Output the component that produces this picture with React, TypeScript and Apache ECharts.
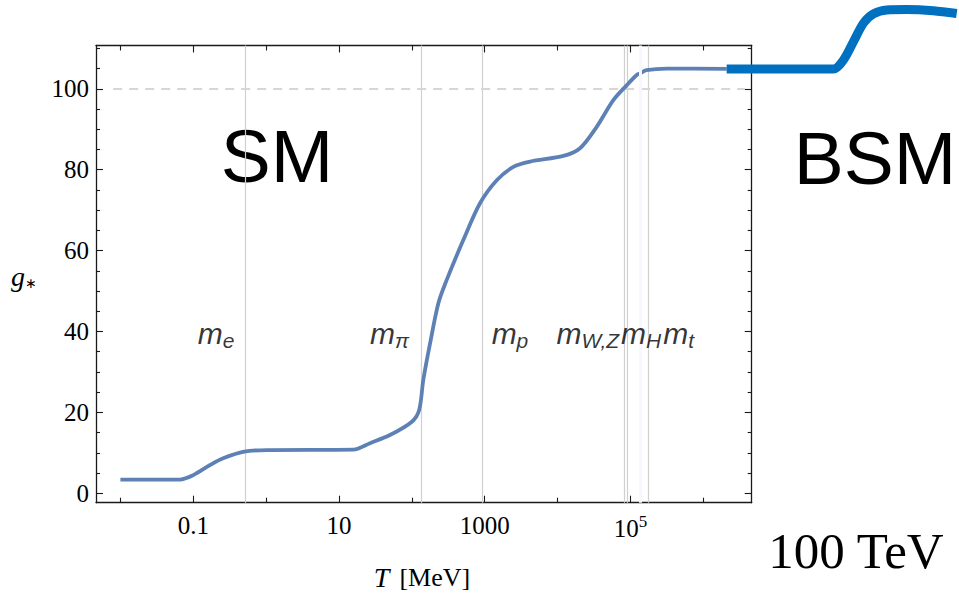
import React, { useEffect, useRef } from 'react';
import * as echarts from 'echarts';

// Standard Model g* curve (T in MeV)
const T_SM = [0.01, 0.066, 0.1, 0.17, 0.257, 0.5, 1.02, 15.7, 26.7, 50, 100, 126, 143.5, 178, 231, 300, 508, 861, 1462, 2472, 4188, 12020, 20320, 34430, 58210, 89125, 121900, 134900, 166000, 316000, 2090000];
const G_SM = [3.4, 3.4, 4.5, 7.0, 8.65, 10.3, 10.7, 10.8, 12.4, 14.4, 17.7, 20.6, 28.0, 37.1, 47.0, 52.7, 62.6, 71.7, 77.4, 80.7, 82.0, 83.4, 85.3, 90.6, 97.2, 100.9, 103.4, 103.8, 104.6, 105.0, 104.9];

// BSM continuation (T in MeV)
const T_BSM = [2090000, 6.1e7, 8.36e7, 1.146e8, 1.574e8, 2.158e8, 3.289e8, 6.19e8, 1.435e9, 3.006e9];
const G_BSM = [104.9, 104.9, 107.1, 111.6, 116.2, 118.5, 119.5, 119.6, 119.3, 118.6];

// Particle mass lines (MeV)
const MASS_LINES = [0.511, 135, 938, 80400, 91200, 173000];
const HIGGS_LINE = 138000;
const LABEL_SUB = ['e', 'π', 'p', 'W,Z', 'H', 't'];
const LABEL_T = [0.205, 49.3, 2220, 26000, 1.40e5, 4.6e5];
const LABEL_G = 39.5;

const X_MAJOR = [0.1, 10, 1000, 1e5];
const X_MINOR = [0.01, 1, 100, 1e4, 1e6];
const Y_MAJOR = [0, 20, 40, 60, 80, 100];
const Y_MINOR = [5, 10, 15, 25, 30, 35, 45, 50, 55, 65, 70, 75, 85, 90, 95, 105, 110];

const SERIF = '"Liberation Serif", "Times New Roman", serif';
const SANS = '"Liberation Sans", Arial, sans-serif';

const X_MIN = -2.335;
const X_MAX = 6.664;
const Y_MIN = -2.32;
const Y_MAX = 110.7;

export default function App() {
  const ref = useRef<HTMLDivElement>(null);
  useEffect(() => {
    document.body.style.margin = '0';
    const chart = echarts.init(ref.current!, null, { renderer: 'svg' });
    const lg = (v: number) => Math.log10(v);
    const frame = { show: true, onZero: false, lineStyle: { color: '#1a1a1a', width: 1.3 } };
    const noLine = { show: false, onZero: false };
    const tickStyle = { color: '#1a1a1a', width: 1.1 };

    const xAxisBase = (position: string, line: boolean, ticks: number[], len: number, labels: boolean) => ({
      type: 'value',
      gridIndex: 0,
      min: X_MIN,
      max: X_MAX,
      position,
      axisLine: line ? frame : noLine,
      axisTick: { show: true, inside: true, length: len, customValues: ticks.map(lg), lineStyle: tickStyle },
      axisLabel: labels
        ? {
            show: true,
            customValues: X_MAJOR.map(lg),
            margin: 10,
            color: '#000',
            fontFamily: SERIF,
            fontSize: 25,
            formatter: (v: number) => {
              const e = Math.round(v);
              if (e <= 3) return String(Math.pow(10, e));
              return `{b|10}{sup|${e}}`;
            },
            rich: {
              b: { fontFamily: SERIF, fontSize: 25, lineHeight: 28, verticalAlign: 'bottom', color: '#000' },
              sup: { fontFamily: SERIF, fontSize: 17, lineHeight: 15, verticalAlign: 'top', color: '#000' },
            },
          }
        : { show: false },
      splitLine: { show: false },
    });
    const yAxisBase = (position: string, line: boolean, ticks: number[], len: number, labels: boolean) => ({
      type: 'value',
      gridIndex: 0,
      min: Y_MIN,
      max: Y_MAX,
      position,
      axisLine: line ? frame : noLine,
      axisTick: { show: true, inside: true, length: len, customValues: ticks, lineStyle: tickStyle },
      axisLabel: labels
        ? { show: true, customValues: Y_MAJOR, margin: 7, color: '#000', fontFamily: SERIF, fontSize: 25 }
        : { show: false },
      splitLine: { show: false },
    });

    const option: any = {
      animation: false,
      backgroundColor: '#ffffff',
      grid: [
        { left: 96, top: 45.5, width: 655.7, height: 457.2, containLabel: false },
        { left: 96, top: 0, width: 863, height: 502.7, containLabel: false },
      ],
      xAxis: [
        xAxisBase('bottom', true, X_MAJOR, 7, true),
        xAxisBase('bottom', false, X_MINOR, 5, false),
        xAxisBase('top', true, X_MAJOR, 7, false),
        xAxisBase('top', false, X_MINOR, 5, false),
        { type: 'value', gridIndex: 1, min: X_MIN, max: X_MIN + 863 / (655.7 / (X_MAX - X_MIN)), show: false },
      ],
      yAxis: [
        yAxisBase('left', true, Y_MAJOR, 7, true),
        yAxisBase('left', false, Y_MINOR, 4, false),
        yAxisBase('right', true, Y_MAJOR, 7, false),
        yAxisBase('right', false, Y_MINOR, 4, false),
        { type: 'value', gridIndex: 1, min: Y_MIN, max: Y_MIN + 502.7 / (457.2 / (Y_MAX - Y_MIN)), show: false },
      ],
      series: [
        {
          type: 'line',
          name: 'guides',
          xAxisIndex: 0,
          yAxisIndex: 0,
          data: [],
          silent: true,
          markLine: {
            z: 1,
            silent: true,
            symbol: 'none',
            label: { show: false },
            data: [
              ...MASS_LINES.map((m) => ({ xAxis: lg(m), lineStyle: { color: '#d0d0d0', width: 1.2, type: 'solid' } })),
              [
                { coord: [-2.1, 100], lineStyle: { color: '#d6d6d6', width: 2, type: [9, 7] } },
                { coord: [6.57, 100] },
              ],
            ],
          },
        },
        {
          type: 'line',
          name: 'SM',
          xAxisIndex: 0,
          yAxisIndex: 0,
          z: 3,
          showSymbol: false,
          smooth: 0.3,
          lineStyle: { color: '#5e81b5', width: 3.8 },
          data: T_SM.map((t, i) => [lg(t), G_SM[i]]),
        },
        {
          type: 'line',
          name: 'higgs',
          xAxisIndex: 0,
          yAxisIndex: 0,
          data: [],
          silent: true,
          markLine: {
            z: 6,
            silent: true,
            symbol: 'none',
            label: { show: false },
            data: [{ xAxis: lg(HIGGS_LINE), lineStyle: { color: '#f7f7ff', width: 3, type: 'solid' } }],
          },
        },
        {
          type: 'line',
          name: 'BSM',
          xAxisIndex: 4,
          yAxisIndex: 4,
          z: 4,
          showSymbol: false,
          smooth: 0.3,
          lineStyle: { color: '#0070c0', width: 9, cap: 'butt' },
          data: T_BSM.map((t, i) => [lg(t), G_BSM[i]]),
        },
        {
          type: 'scatter',
          name: 'labels',
          xAxisIndex: 0,
          yAxisIndex: 0,
          symbolSize: 0,
          z: 7,
          silent: true,
          data: LABEL_T.map((t) => [lg(t), LABEL_G]),
          label: {
            show: true,
            position: 'inside',
            color: '#000',
            textBorderWidth: 0,
            textBorderColor: 'transparent',
            formatter: (p: any) => `{m|m}{s|${LABEL_SUB[p.dataIndex]}}`,
            rich: {
              m: { fontFamily: SANS, fontStyle: 'italic', fontSize: 30, lineHeight: 34, color: '#000', textBorderWidth: 0, verticalAlign: 'middle' },
              s: { fontFamily: SANS, fontStyle: 'italic', fontSize: 21, lineHeight: 22, color: '#000', textBorderWidth: 0, verticalAlign: 'bottom' },
            },
          },
        },
      ],
      graphic: [
        {
          type: 'text',
          x: 277,
          y: 156,
          style: { text: 'SM', font: `75px ${SANS}`, fill: '#000', align: 'center', verticalAlign: 'middle' },
        },
        {
          type: 'text',
          x: 875,
          y: 158,
          style: { text: 'BSM', font: `75px ${SANS}`, fill: '#000', align: 'center', verticalAlign: 'middle' },
        },
        {
          type: 'text',
          x: 856,
          y: 551,
          style: { text: '100 TeV', font: `51px ${SERIF}`, fill: '#000', align: 'center', verticalAlign: 'middle' },
        },
        {
          type: 'text',
          x: 422,
          y: 577,
          style: {
            text: '{i|T}{r|[MeV]}',
            align: 'center',
            verticalAlign: 'middle',
            font: `25px ${SERIF}`,
            fill: '#000',
            rich: {
              i: { fontFamily: SERIF, fontStyle: 'italic', fontSize: 28, color: '#000', padding: [0, 10, 0, 0] },
              r: { fontFamily: SERIF, fontSize: 26, color: '#000' },
            },
          },
        },
        {
          type: 'text',
          x: 24,
          y: 276,
          style: {
            text: '{g|g}{s|∗}',
            align: 'center',
            verticalAlign: 'middle',
            font: `28px ${SERIF}`,
            fill: '#000',
            rich: {
              g: { fontFamily: SERIF, fontStyle: 'italic', fontSize: 28, lineHeight: 28, color: '#000', verticalAlign: 'middle' },
              s: { fontFamily: SERIF, fontSize: 14, lineHeight: 16, color: '#000', verticalAlign: 'bottom' },
            },
          },
        },
      ],
    };
    chart.setOption(option);
    return () => chart.dispose();
  }, []);
  return <div ref={ref} style={{ position: 'absolute', left: 0, top: 0, width: 959, height: 595, background: '#fff' }} />;
}
